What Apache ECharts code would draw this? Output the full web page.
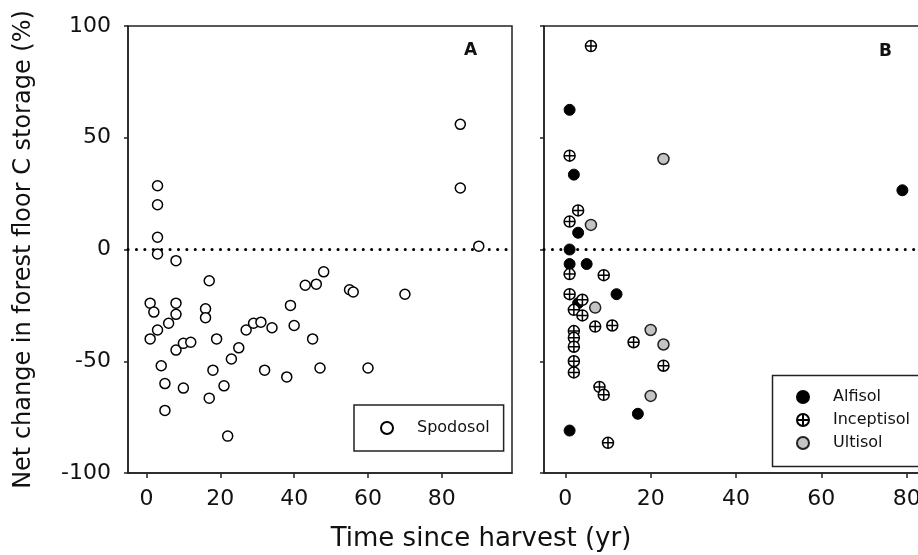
<!DOCTYPE html>
<html>
<head>
<meta charset="utf-8">
<script src="https://cdn.jsdelivr.net/npm/echarts@6/dist/echarts.min.js"></script>
<style>html,body{margin:0;padding:0;background:#fff;}#chart{width:918px;height:555px;}</style>
</head>
<body>
<div id="chart"></div>
<script>
// ---- data ----
const xTicks = [0, 20, 40, 60, 80];
const yTicks = [-100, -50, 0, 50, 100];
const spodosol = [
  [1,-24],[2,-28],[1,-40],[3,-36],[4,-52],[5,-60],[5,-72],[6,-33],[8,-24],[8,-29],
  [8,-45],[10,-42],[10,-62],[12,-41.5],[16,-26.5],[16,-30.5],[17,-14],[17,-66.5],[18,-54],[19,-40],
  [21,-61],[22,-83.5],[23,-49],[25,-44],[27,-36],[29,-33],[31,-32.5],[32,-54],[34,-35],[38,-57],
  [39,-25],[40,-34],[43,-16],[45,-40],[46,-15.5],[47,-53],[48,-10],[55,-18],[56,-19],[60,-53],
  [70,-20],[3,28.5],[3,20],[3,5.5],[3,-2],[8,-5],[85,56],[85,27.5],[90,1.5]
];
const alfisol = [
  [1,62.5],[2,33.5],[79,26.5],[3,7.5],[1,0],[1,-6.5],[5,-6.5],[12,-20],[3,-24],[17,-73.5],[1,-81]
];
const inceptisol = [
  [6,91],[1,42],[3,17.5],[1,12.5],[1,-11],[9,-11.5],[1,-20],[4,-22.5],[2,-27],[4,-29.5],
  [7,-34.5],[11,-34],[2,-36.5],[2,-39.5],[2,-43.5],[2,-50],[2,-55],[16,-41.5],[23,-52],[8,-61.5],
  [9,-65],[10,-86.5]
];
const ultisol = [
  [23,40.5],[6,11],[7,-26],[20,-36],[23,-42.5],[20,-65.5]
];

const FONT = 'DejaVu Sans';
const INK = '#111';
const LINE = '#222';
const crossCircle = 'path://M10,0A10,10,0,1,1,-10,0A10,10,0,1,1,10,0ZM-10,0L10,0M0,-10L0,10';

function xAxisFor(grid, max, showLabels) {
  return {
    gridIndex: grid, type: 'value', min: -5, max: max,
    axisLine: {show: true, onZero: false, lineStyle: {color: LINE, width: 1.5}},
    axisTick: {show: true, inside: false, length: 5, customValues: xTicks, lineStyle: {color: LINE, width: 1.5}},
    axisLabel: {show: showLabels, customValues: xTicks, fontSize: 22, fontFamily: FONT, color: INK, margin: 15},
    splitLine: {show: false}
  };
}
function yAxisFor(grid, showLabels, name) {
  return {
    gridIndex: grid, type: 'value', min: -100, max: 100, interval: 50,
    name: name || '', nameLocation: 'middle', nameGap: 92,
    nameTextStyle: {fontSize: 24, fontFamily: FONT, color: INK},
    axisLine: {show: true, onZero: false, lineStyle: {color: LINE, width: 1.5}},
    axisTick: {show: true, inside: false, length: 4, lineStyle: {color: LINE, width: 1.5}},
    axisLabel: {show: showLabels, fontSize: 22, fontFamily: FONT, color: INK, margin: 17},
    splitLine: {show: false}
  };
}
const zeroLine = {
  silent: true, symbol: 'none', z: 1, animation: false,
  label: {show: false},
  lineStyle: {color: '#000', width: 3, type: [0.1, 8.3], cap: 'round'},
  emphasis: {disabled: true},
  data: [{yAxis: 0}]
};

const option = {
  animation: false,
  textStyle: {fontFamily: FONT},
  grid: [
    {left: 128, top: 26, width: 384, height: 447, show: true, borderColor: LINE, borderWidth: 1.5,
     backgroundColor: 'transparent', containLabel: false, outerBoundsMode: 'none'},
    {left: 544, top: 26, width: 448, height: 447, show: true, borderColor: LINE, borderWidth: 1.5,
     backgroundColor: 'transparent', containLabel: false, outerBoundsMode: 'none'}
  ],
  xAxis: [xAxisFor(0, 99, true), xAxisFor(1, 100, true)],
  yAxis: [yAxisFor(0, true, 'Net change in forest floor C storage (%)'), yAxisFor(1, false)],
  legend: [
    {
      data: ['Spodosol'], left: 354, top: 405, orient: 'vertical', selectedMode: false,
      itemWidth: 50, itemHeight: 12, itemGap: 7, padding: [15, 14, 15, 26],
      borderColor: LINE, borderWidth: 1.5,
      textStyle: {fontSize: 16, fontFamily: FONT, color: INK, lineHeight: 16}
    },
    {
      data: ['Alfisol', 'Inceptisol', 'Ultisol'], left: 770, top: 374, orient: 'vertical', selectedMode: false,
      itemWidth: 50, itemHeight: 12, itemGap: 7, padding: [15, 10, 15, 26],
      borderWidth: 0,
      textStyle: {fontSize: 16, fontFamily: FONT, color: INK, lineHeight: 16}
    }
  ],
  graphic: [
    {type: 'rect', left: 770, top: 373, z: 0, silent: true,
     shape: {width: 220, height: 91}, style: {fill: 'none', stroke: LINE, lineWidth: 1.5}},
    {type: 'text', left: 464, top: 42, style: {text: 'A', font: 'bold 17px "DejaVu Sans"', fill: INK}},
    {type: 'text', left: 879, top: 43, style: {text: 'B', font: 'bold 17px "DejaVu Sans"', fill: INK}},
    {type: 'text', x: 481, y: 539, style: {text: 'Time since harvest (yr)', font: '26px "DejaVu Sans"', fill: INK, align: 'center', verticalAlign: 'middle'}}
  ],
  series: [
    {
      name: 'Spodosol', type: 'scatter', xAxisIndex: 0, yAxisIndex: 0, z: 3,
      symbol: 'circle', symbolSize: 10, data: spodosol,
      itemStyle: {color: '#fff', borderColor: '#000', borderWidth: 1.5, opacity: 1},
      markLine: zeroLine
    },
    {
      name: 'Alfisol', type: 'scatter', xAxisIndex: 1, yAxisIndex: 1, z: 3,
      symbol: 'circle', symbolSize: 11, data: alfisol,
      itemStyle: {color: '#000', borderColor: '#000', borderWidth: 1, opacity: 1},
      markLine: zeroLine
    },
    {
      name: 'Inceptisol', type: 'scatter', xAxisIndex: 1, yAxisIndex: 1, z: 4,
      symbol: crossCircle, symbolSize: 11, symbolKeepAspect: true, data: inceptisol,
      itemStyle: {color: '#fff', borderColor: '#000', borderWidth: 1.5, opacity: 1}
    },
    {
      name: 'Ultisol', type: 'scatter', xAxisIndex: 1, yAxisIndex: 1, z: 4,
      symbol: 'circle', symbolSize: 11, data: ultisol,
      itemStyle: {color: '#c4c4c4', borderColor: '#222', borderWidth: 1.5, opacity: 1}
    }
  ]
};
const chart = echarts.init(document.getElementById('chart'), null, {renderer: 'canvas'});
chart.setOption(option);
</script>
</body>
</html>
